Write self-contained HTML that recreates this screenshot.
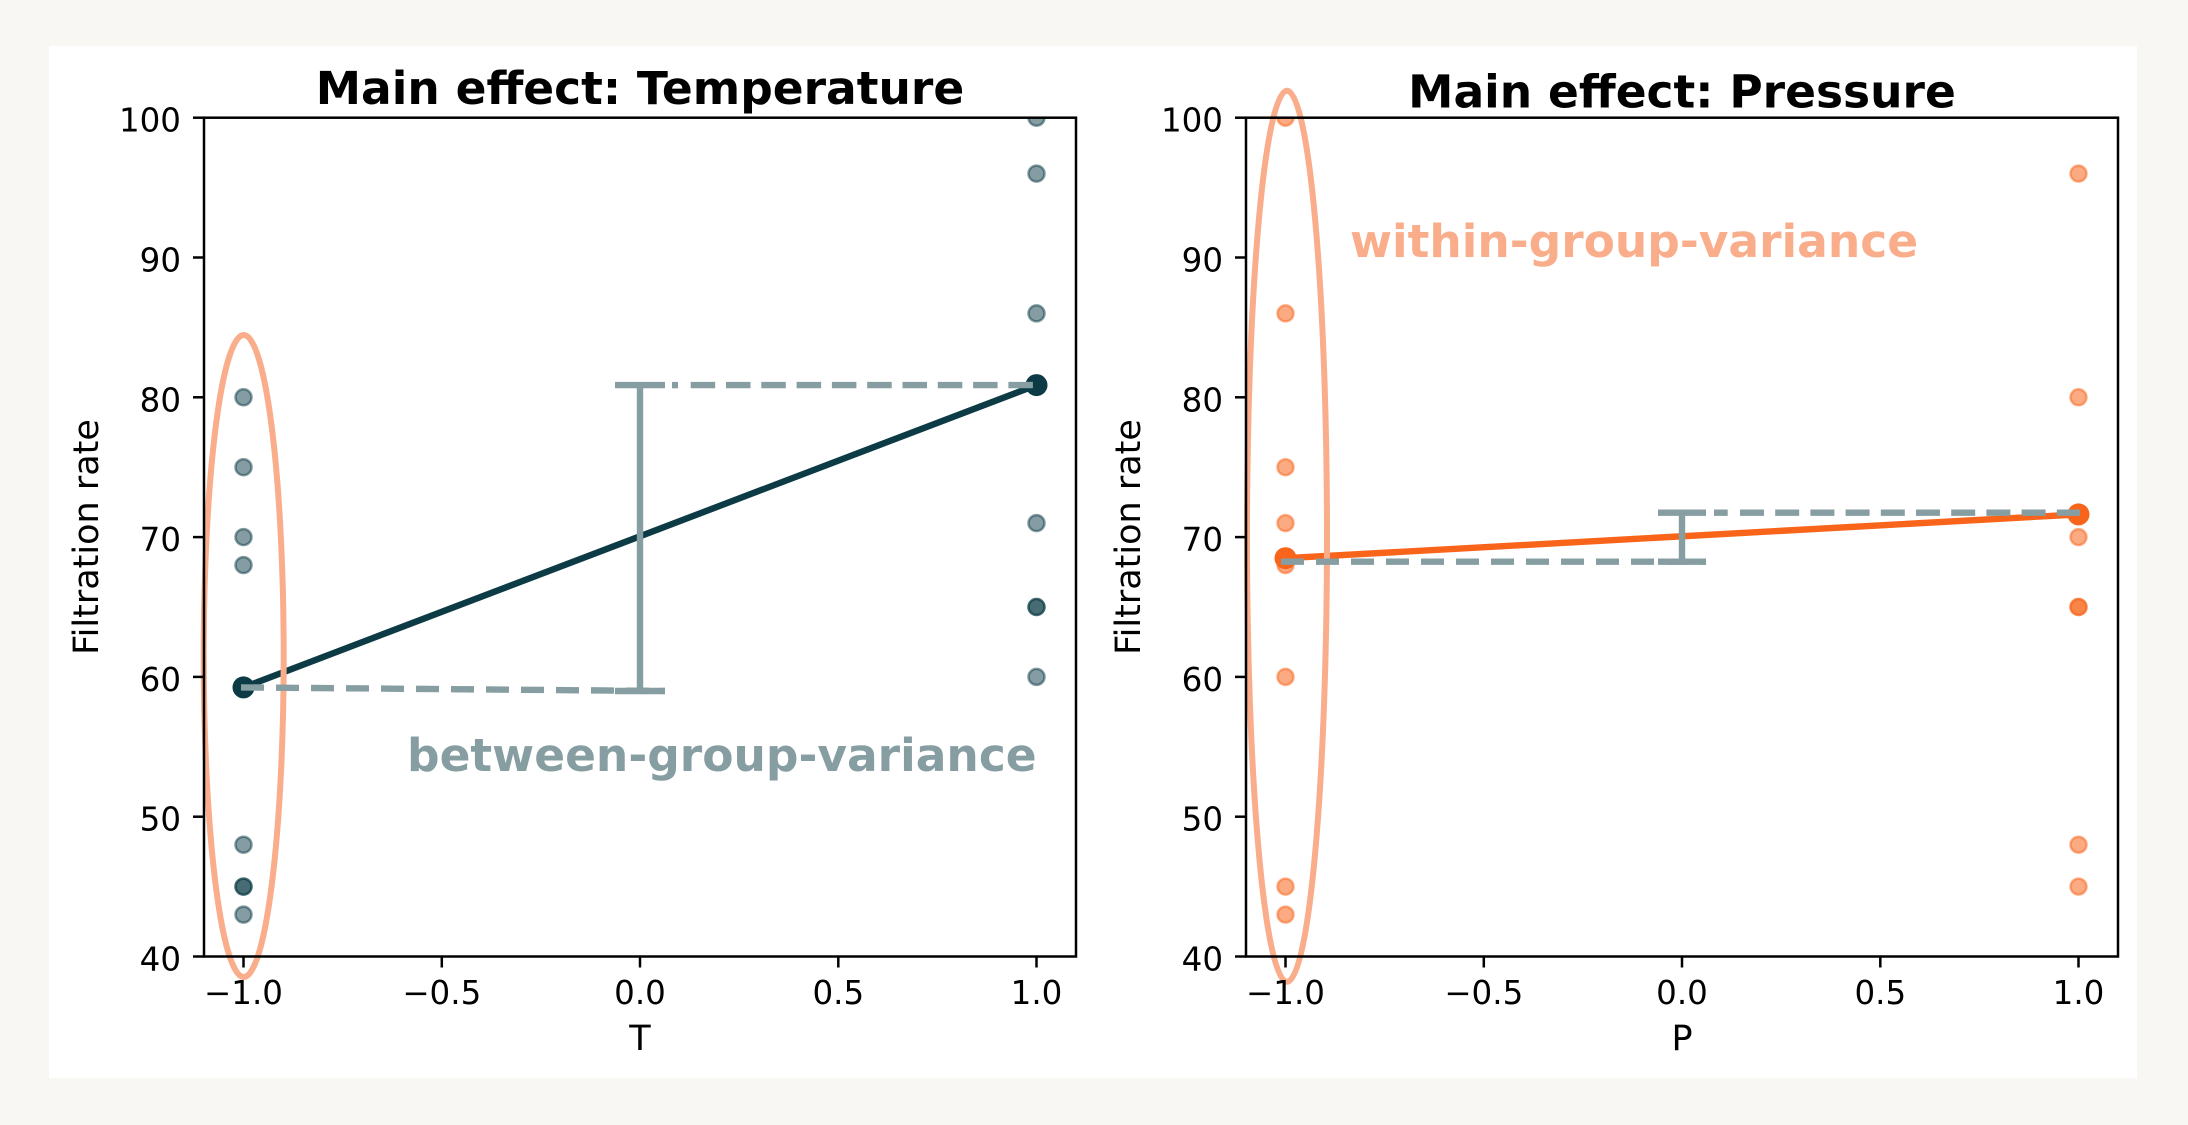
<!DOCTYPE html>
<html>
<head>
<meta charset="utf-8">
<style>
  html, body { margin:0; padding:0; background:#f8f7f4; }
  svg { display:block; }
  text { font-family: "DejaVu Sans", "Liberation Sans", sans-serif; }
</style>
</head>
<body>
<svg width="2188" height="1125" viewBox="0 0 2188 1125" xmlns="http://www.w3.org/2000/svg">
  <defs>
    <clipPath id="clipL"><rect x="204" y="117.7" width="872" height="838.8"/></clipPath>
    <clipPath id="clipR"><rect x="1246" y="117.7" width="872" height="838.8"/></clipPath>
  </defs>
  <rect x="0" y="0" width="2188" height="1125" fill="#f8f7f4"/>
  <rect x="49" y="46" width="2088" height="1032" fill="#ffffff"/>

  <!-- ================= LEFT PANEL ================= -->
  <g clip-path="url(#clipL)" fill="rgba(12,59,69,0.5)" stroke="rgba(12,59,69,0.5)" stroke-width="2.5">
    <circle cx="243.5" cy="886.6" r="8"/>
    <circle cx="243.5" cy="886.6" r="8"/>
    <circle cx="243.5" cy="844.7" r="8"/>
    <circle cx="243.5" cy="565.1" r="8"/>
    <circle cx="243.5" cy="397.3" r="8"/>
    <circle cx="243.5" cy="914.6" r="8"/>
    <circle cx="243.5" cy="467.2" r="8"/>
    <circle cx="243.5" cy="537.1" r="8"/>
    <circle cx="1036.5" cy="523.1" r="8"/>
    <circle cx="1036.5" cy="607.0" r="8"/>
    <circle cx="1036.5" cy="607.0" r="8"/>
    <circle cx="1036.5" cy="676.9" r="8"/>
    <circle cx="1036.5" cy="117.7" r="8"/>
    <circle cx="1036.5" cy="313.4" r="8"/>
    <circle cx="1036.5" cy="173.6" r="8"/>
  </g>
  <line x1="243.5" y1="687.4" x2="1036.5" y2="385.1" stroke="#0c3b45" stroke-width="6.4" stroke-linecap="round"/>
  <circle cx="243.5" cy="687.4" r="11" fill="#0c3b45"/>
  <circle cx="1036.5" cy="385.1" r="11" fill="#0c3b45"/>
  <ellipse cx="243.7" cy="656" rx="40" ry="321" fill="none" stroke="#f9ad8a" stroke-width="6"/>
  <g stroke="#869ea2" fill="none">
    <line x1="640" y1="385.1" x2="640" y2="691" stroke-width="6.4"/>
    <line x1="615" y1="385.1" x2="665" y2="385.1" stroke-width="6.4"/>
    <line x1="615" y1="691" x2="665" y2="691" stroke-width="6.4"/>
    <line x1="241" y1="687.4" x2="665" y2="691" stroke-width="6.4" stroke-dasharray="23 12"/>
    <line x1="672" y1="385.1" x2="678" y2="385.1" stroke-width="6.4"/>
    <line x1="690.7" y1="385.1" x2="1038" y2="385.1" stroke-width="6.4" stroke-dasharray="24.5 10.8"/>
  </g>
  <rect x="204" y="117.7" width="872" height="838.8" fill="none" stroke="#000" stroke-width="2.5"/>
  <g stroke="#000" stroke-width="2.5">
    <line x1="193" y1="117.7" x2="204" y2="117.7"/>
    <line x1="193" y1="257.5" x2="204" y2="257.5"/>
    <line x1="193" y1="397.3" x2="204" y2="397.3"/>
    <line x1="193" y1="537.1" x2="204" y2="537.1"/>
    <line x1="193" y1="676.9" x2="204" y2="676.9"/>
    <line x1="193" y1="816.7" x2="204" y2="816.7"/>
    <line x1="193" y1="956.5" x2="204" y2="956.5"/>
    <line x1="243.5" y1="956.5" x2="243.5" y2="967.5"/>
    <line x1="441.8" y1="956.5" x2="441.8" y2="967.5"/>
    <line x1="640" y1="956.5" x2="640" y2="967.5"/>
    <line x1="838.3" y1="956.5" x2="838.3" y2="967.5"/>
    <line x1="1036.5" y1="956.5" x2="1036.5" y2="967.5"/>
  </g>
  <g font-size="32.5" fill="#000" text-anchor="end">
    <text x="181" y="131.7">100</text>
    <text x="181" y="271.5">90</text>
    <text x="181" y="411.3">80</text>
    <text x="181" y="551.1">70</text>
    <text x="181" y="690.9">60</text>
    <text x="181" y="830.7">50</text>
    <text x="181" y="970.5">40</text>
  </g>
  <g font-size="32.5" fill="#000" text-anchor="middle">
    <text x="243.5" y="1004">−1.0</text>
    <text x="441.8" y="1004">−0.5</text>
    <text x="640" y="1004">0.0</text>
    <text x="838.3" y="1004">0.5</text>
    <text x="1036.5" y="1004">1.0</text>
  </g>
  <g font-size="35" fill="#000" text-anchor="middle">
    <text x="640" y="1050">T</text>
    <text transform="translate(98,537) rotate(-90)" x="0" y="0">Filtration rate</text>
  </g>
  <text x="640" y="104" font-size="45.5" font-weight="bold" text-anchor="middle" fill="#000">Main effect: Temperature</text>
  <text x="407" y="770.8" font-size="45.5" font-weight="bold" fill="#869ea2">between-group-variance</text>

  <!-- ================= RIGHT PANEL ================= -->
  <g clip-path="url(#clipR)" fill="rgba(248,100,26,0.55)" stroke="rgba(248,100,26,0.5)" stroke-width="2.5">
    <circle cx="1285.5" cy="886.6" r="8"/>
    <circle cx="1285.5" cy="523.1" r="8"/>
    <circle cx="1285.5" cy="565.1" r="8"/>
    <circle cx="1285.5" cy="676.9" r="8"/>
    <circle cx="1285.5" cy="914.6" r="8"/>
    <circle cx="1285.5" cy="117.7" r="8"/>
    <circle cx="1285.5" cy="467.2" r="8"/>
    <circle cx="1285.5" cy="313.4" r="8"/>
    <circle cx="2078.5" cy="844.7" r="8"/>
    <circle cx="2078.5" cy="607.0" r="8"/>
    <circle cx="2078.5" cy="607.0" r="8"/>
    <circle cx="2078.5" cy="397.3" r="8"/>
    <circle cx="2078.5" cy="886.6" r="8"/>
    <circle cx="2078.5" cy="537.1" r="8"/>
    <circle cx="2078.5" cy="173.6" r="8"/>
  </g>
  <line x1="1285.5" y1="558.2" x2="2078.5" y2="514.4" stroke="#f8641a" stroke-width="6.4" stroke-linecap="round"/>
  <circle cx="1285.5" cy="558.2" r="11" fill="#f8641a"/>
  <circle cx="2078.5" cy="514.4" r="11" fill="#f8641a"/>
  <ellipse cx="1287" cy="536.3" rx="40" ry="445.5" fill="none" stroke="#f9ad8a" stroke-width="6"/>
  <g stroke="#869ea2" fill="none">
    <line x1="1682" y1="512.7" x2="1682" y2="561.7" stroke-width="6.4"/>
    <line x1="1658" y1="512.7" x2="1706" y2="512.7" stroke-width="6.4"/>
    <line x1="1658" y1="561.7" x2="1706" y2="561.7" stroke-width="6.4"/>
    <line x1="1281" y1="561.7" x2="1706" y2="561.7" stroke-width="6.4" stroke-dasharray="23 12"/>
    <line x1="1714" y1="512.7" x2="1727.7" y2="512.7" stroke-width="6.4"/>
    <line x1="1740" y1="512.7" x2="2080" y2="512.7" stroke-width="6.4" stroke-dasharray="24 11.2"/>
  </g>
  <rect x="1246" y="117.7" width="872" height="838.8" fill="none" stroke="#000" stroke-width="2.5"/>
  <g stroke="#000" stroke-width="2.5">
    <line x1="1235" y1="117.7" x2="1246" y2="117.7"/>
    <line x1="1235" y1="257.5" x2="1246" y2="257.5"/>
    <line x1="1235" y1="397.3" x2="1246" y2="397.3"/>
    <line x1="1235" y1="537.1" x2="1246" y2="537.1"/>
    <line x1="1235" y1="676.9" x2="1246" y2="676.9"/>
    <line x1="1235" y1="816.7" x2="1246" y2="816.7"/>
    <line x1="1235" y1="956.5" x2="1246" y2="956.5"/>
    <line x1="1285.5" y1="956.5" x2="1285.5" y2="967.5"/>
    <line x1="1483.8" y1="956.5" x2="1483.8" y2="967.5"/>
    <line x1="1682" y1="956.5" x2="1682" y2="967.5"/>
    <line x1="1880.3" y1="956.5" x2="1880.3" y2="967.5"/>
    <line x1="2078.5" y1="956.5" x2="2078.5" y2="967.5"/>
  </g>
  <g font-size="32.5" fill="#000" text-anchor="end">
    <text x="1223" y="131.7">100</text>
    <text x="1223" y="271.5">90</text>
    <text x="1223" y="411.3">80</text>
    <text x="1223" y="551.1">70</text>
    <text x="1223" y="690.9">60</text>
    <text x="1223" y="830.7">50</text>
    <text x="1223" y="970.5">40</text>
  </g>
  <g font-size="32.5" fill="#000" text-anchor="middle">
    <text x="1285.5" y="1004">−1.0</text>
    <text x="1483.8" y="1004">−0.5</text>
    <text x="1682" y="1004">0.0</text>
    <text x="1880.3" y="1004">0.5</text>
    <text x="2078.5" y="1004">1.0</text>
  </g>
  <g font-size="35" fill="#000" text-anchor="middle">
    <text x="1682" y="1050">P</text>
    <text transform="translate(1140,537) rotate(-90)" x="0" y="0">Filtration rate</text>
  </g>
  <text x="1682" y="107.5" font-size="45.5" font-weight="bold" text-anchor="middle" fill="#000">Main effect: Pressure</text>
  <text x="1350" y="257" font-size="45.5" font-weight="bold" fill="#f9ad8a">within-group-variance</text>
</svg>
</body>
</html>
